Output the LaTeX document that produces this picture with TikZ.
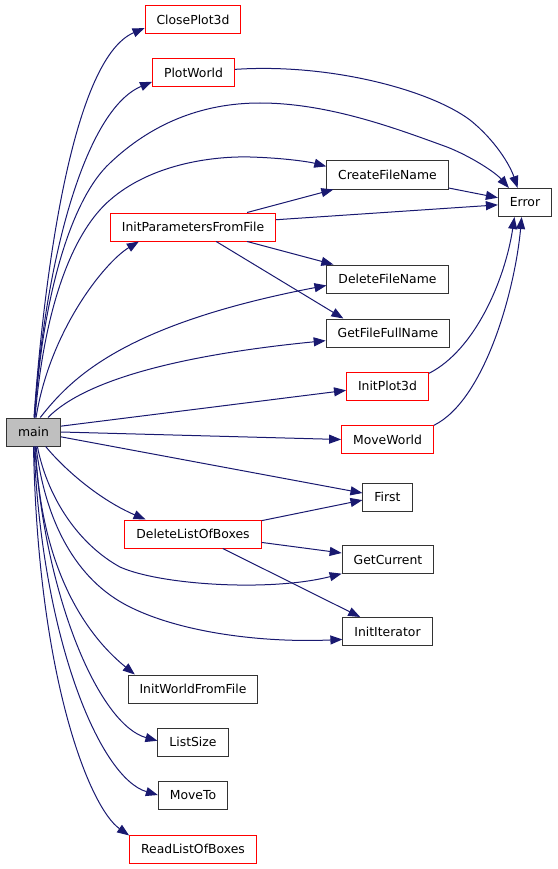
\documentclass[tikz,border=0pt]{standalone}
\usepackage{fontspec}
\setmainfont{DejaVu Sans}
\usepackage{tikz}
\usetikzlibrary{arrows.meta}
\definecolor{callblue}{HTML}{191970}
\definecolor{mainfill}{HTML}{BFBFBF}

\begin{document}
\begin{tikzpicture}[
  x=1pt, y=-1pt,
  fn/.style={rectangle, draw=black!80, line width=1pt, minimum height=28pt, inner xsep=11.5pt, inner ysep=0pt, font=\fontsize{12.4}{14}\selectfont},
  fnred/.style={fn, draw=red},
  fnmain/.style={fn, fill=mainfill},
  call/.style={draw=callblue, line width=1pt, -{Triangle[length=12pt,width=9pt]}}
]
  \useasboundingbox (0,0) rectangle (557,869);

  \node[fnmain] (main) at (33.5,432) {main};
  \node[fnred] (closeplot) at (193,19.5) {ClosePlot3d};
  \node[fnred] (plotworld) at (193.5,73) {PlotWorld};
  \node[fnred] (initparams) at (193,227) {InitParametersFromFile};
  \node[fn] (createname) at (387.5,175) {CreateFileName};
  \node[fn] (error) at (525,202.5) {Error};
  \node[fn] (deletename) at (387.5,279) {DeleteFileName};
  \node[fn] (fullname) at (388,333) {GetFileFullName};
  \node[fnred] (initplot) at (387.5,386) {InitPlot3d};
  \node[fnred] (moveworld) at (387.5,439.5) {MoveWorld};
  \node[fn] (first) at (387.5,497) {First};
  \node[fnred] (deleteboxes) at (193,534) {DeleteListOfBoxes};
  \node[fn] (getcurrent) at (388,559.5) {GetCurrent};
  \node[fn] (inititer) at (387.5,631.5) {InitIterator};
  \node[fn] (initworld) at (193,689) {InitWorldFromFile};
  \node[fn] (listsize) at (193,742) {ListSize};
  \node[fn] (moveto) at (193,795) {MoveTo};
  \node[fnred] (readboxes) at (193,849) {ReadListOfBoxes};

  \draw[call] (main.88) .. controls (43,290) and (70,60) .. (closeplot.190);
  \draw[call] (main.87) .. controls (45,260) and (85,110) .. (plotworld.192);
  \draw[call] (main.85) .. controls (42,300) and (70,200) .. (110,163)
    .. controls (150,125) and (200,103) .. (260,103)
    .. controls (330,103) and (400,130) .. (447,147)
    .. controls (470,156) and (495,172) .. (error.138);
  \draw[call] (main.84) .. controls (45,300) and (75,230) .. (110,200)
    .. controls (150,165) and (210,156) .. (250,157)
    .. controls (285,158) and (310,162) .. (createname.172);
  \draw[call] (main.80) .. controls (50,330) and (105,262) .. (initparams.195);
  \draw[call] (main.65) .. controls (70,380) and (120,325) .. (deletename.186);
  \draw[call] (main.45) .. controls (85,380) and (180,355) .. (fullname.187);
  \draw[call] (main.12) -- (initplot.186);
  \draw[call] (main.east) -- (moveworld.west);
  \draw[call] (main.-10) -- (first.171);
  \draw[call] (main.-50) .. controls (65,470) and (100,500) .. (deleteboxes.163);
  \draw[call] (main.-75) .. controls (48,500) and (80,545) .. (120,567)
    .. controls (160,585) and (270,592) .. (getcurrent.197);
  \draw[call] (main.-80) .. controls (45,520) and (75,580) .. (130,607)
    .. controls (180,632) and (260,643) .. (inititer.190);
  \draw[call] (main.-82) .. controls (40,560) and (80,630) .. (initworld.166);
  \draw[call] (main.-85) .. controls (45,600) and (100,725) .. (listsize.178);
  \draw[call] (main.-88) .. controls (42,640) and (100,778) .. (moveto.west);
  \draw[call] (main.-90) .. controls (38,680) and (90,808) .. (readboxes.168);

  \draw[call] (plotworld.5) .. controls (330,63) and (430,90) .. (470,120)
    .. controls (495,140) and (510,165) .. (error.117);
  \draw[call] (initplot.17) .. controls (475,350) and (505,280) .. (error.234);
  \draw[call] (moveworld.17) .. controls (485,400) and (515,290) .. (error.257);

  \draw[call] (initparams.15) -- (createname.195);
  \draw[call] (initparams.5) -- (error.185);
  \draw[call] (initparams.-15) -- (deletename.165);
  \draw[call] (initparams.-32) -- (fullname.162);
  \draw[call] (createname.-12) -- (error.170);

  \draw[call] (deleteboxes.11) -- (first.187);
  \draw[call] (deleteboxes.-7) -- (getcurrent.172);
  \draw[call] (deleteboxes.-26) -- (inititer.152);
\end{tikzpicture}
\end{document}
